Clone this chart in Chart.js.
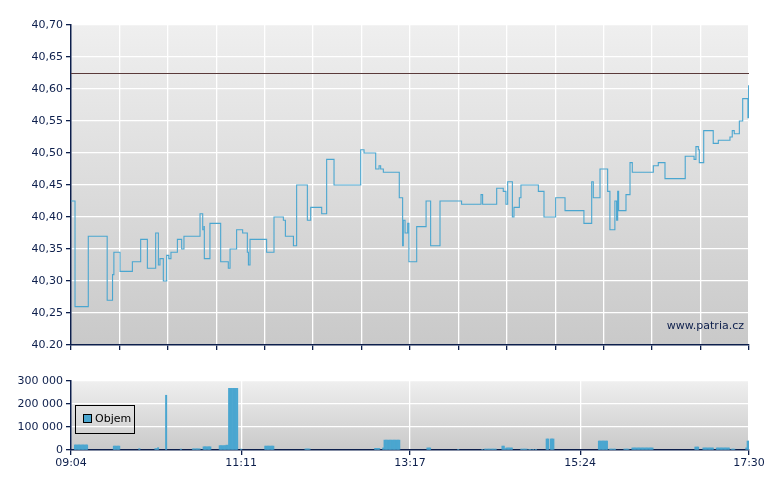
<!DOCTYPE html>
<html><head><meta charset="utf-8">
<script src="https://cdn.jsdelivr.net/npm/chart.js@4/dist/chart.umd.min.js"></script>
<style>
html,body{margin:0;padding:0;background:#fff;width:780px;height:490px;overflow:hidden}
.c{position:absolute;left:0}
</style></head><body>
<div class="c" style="top:0;width:780px;height:360px"><canvas id="p"></canvas></div>
<div class="c" style="top:360px;width:780px;height:130px"><canvas id="v"></canvas></div>
<script>
// minutes after 09:04
const priceTimes = [0,3,12.9,27,31,32,36.6,45.8,52,57,63.2,65.2,66.4,68.9,71.4,73,74.6,79.4,82.6,84.3,96.3,98.3,99.3,99.5,103.7,111.7,117.4,118.7,123.6,128.1,131.6,132.4,133.6,146,151.5,158.5,160,166,168.4,176.4,178.9,187.1,190.8,196.3,216.2,218.7,227.4,229.9,231.1,233.1,245,247.5,248,249.3,251.3,252.2,258,265,268.4,275.4,291.5,306,307.2,317.7,322.6,324.6,325.9,329.4,330.6,334.6,335.8,348.8,353,361.7,368.7,382.8,388.6,389.8,394.8,400.5,402.2,405.9,407.2,408,408.7,414.2,417.2,418.9,434.6,438.3,443.3,458.4,465,466.4,468.2,468.9,472.2,479.3,483.1,491.8,493.5,495,498.8,501.3,505.2,505.7,506];
const priceValues = [40.425,40.26,40.37,40.27,40.31,40.345,40.315,40.33,40.365,40.32,40.375,40.325,40.335,40.30,40.34,40.335,40.345,40.365,40.35,40.37,40.405,40.38,40.385,40.335,40.39,40.33,40.32,40.35,40.38,40.375,40.345,40.325,40.365,40.345,40.40,40.395,40.37,40.355,40.45,40.395,40.415,40.405,40.49,40.45,40.505,40.50,40.475,40.48,40.475,40.47,40.43,40.355,40.395,40.375,40.39,40.33,40.385,40.425,40.355,40.425,40.42,40.435,40.42,40.445,40.44,40.42,40.455,40.40,40.415,40.43,40.45,40.44,40.40,40.43,40.41,40.39,40.455,40.43,40.475,40.44,40.38,40.425,40.395,40.44,40.41,40.435,40.485,40.47,40.48,40.485,40.46,40.495,40.49,40.51,40.505,40.485,40.535,40.515,40.52,40.525,40.535,40.53,40.55,40.585,40.555,40.605,40.605];
const referencePrice = 40.625;
const volStart = [3,32,51,63,65,71,82,91,99,111,116,118,127,145,175,227,233,234,238,266,289,307,309,311,322,324,325,336,342,343,345,347,355,358,394,397,402,413,419,466,472,482,493,504,505,506];
const volEnd   = [12,36,51,64,65,71,82,96,104,115,117,124,127,151,178,230,233,237,245,268,289,307,310,317,323,324,329,340,342,343,345,347,356,360,396,400,406,416,434,468,479,491,495,504,505,506];
const volValues= [22000,17000,6000,6000,10000,238000,4000,5000,14000,19000,21000,268000,4000,17000,4500,7000,9000,43000,43000,9000,3000,3000,4000,4000,17000,6000,9000,4000,3000,3000,3000,3000,48000,48000,39000,39000,4000,4000,9000,13000,9000,9000,4000,9000,39000,39000];
const volTickMinutes = [0,127,253,380,506];
const volTickLabels = ['09:04','11:11','13:17','15:24','17:30'];
const priceTicks = [40.20,40.25,40.30,40.35,40.40,40.45,40.50,40.55,40.60,40.65,40.70];
const volTicks = [0,100000,200000,300000];

const NAVY='#0d1f4c', FF='"DejaVu Sans", Verdana, sans-serif', FONT={family:FF,size:11};
Chart.defaults.font=FONT; Chart.defaults.color=NAVY;

const bg={id:'bg',beforeDraw(c){const a=c.chartArea,x=c.ctx;const g=x.createLinearGradient(0,a.top,0,a.bottom);g.addColorStop(0,'#efefef');g.addColorStop(1,'#c9c9c9');x.save();x.fillStyle=g;x.fillRect(a.left,a.top,a.right-a.left,a.bottom-a.top);x.restore();}};

const refLine={id:'ref',afterDatasetsDraw(c){const a=c.chartArea,x=c.ctx,y=Math.round(c.scales.y.getPixelForValue(referencePrice))+0.5;x.save();x.strokeStyle='#5a3a3a';x.lineWidth=1;x.beginPath();x.moveTo(a.left,y);x.lineTo(a.right,y);x.stroke();
x.fillStyle=NAVY;x.font='11px '+FF;x.textAlign='right';x.textBaseline='alphabetic';x.fillText('www.patria.cz',a.right-5,a.bottom-16);x.restore();}};

const stepX=506/14; const gridX=[];for(let i=0;i<=14;i++)gridX.push(i*stepX);

new Chart(document.getElementById('p'),{
 type:'line',
 data:{datasets:[{data:priceTimes.map((t,i)=>({x:t,y:priceValues[i]})),borderColor:'#4aa6d0',borderWidth:1.1,pointRadius:0,stepped:true,fill:false}]},
 options:{responsive:true,maintainAspectRatio:false,animation:false,
  layout:{padding:{top:25,right:31,left:0,bottom:0}},
  plugins:{legend:{display:false},tooltip:{enabled:false}},
  scales:{
   x:{type:'linear',min:0,max:506,afterBuildTicks:s=>{s.ticks=gridX.map(v=>({value:v}));},
      ticks:{display:false},grid:{color:'#ffffff',lineWidth:1.3,tickColor:NAVY,tickLength:5,drawTicks:true},
      border:{color:NAVY,width:1.5},afterFit:s=>{s.height=15;}},
   y:{min:40.2,max:40.7,afterBuildTicks:s=>{s.ticks=priceTicks.map(v=>({value:v}));},
      ticks:{color:NAVY,padding:3,callback:v=>v===40.2?'40.20':v.toFixed(2).replace('.',',')},
      grid:{color:'#ffffff',lineWidth:1.3,tickColor:NAVY,tickLength:5},
      border:{color:NAVY,width:1.5},afterFit:s=>{s.width=71;}}
  }},
 plugins:[bg,refLine]
});

const volData=[];
volStart.forEach((s,i)=>{for(let m=s;m<=volEnd[i];m++)volData.push({x:m,y:volValues[i]});});

const legendBox={id:'lg',afterDraw(c){const x=c.ctx;x.save();x.strokeStyle='#000';x.lineWidth=1;x.strokeRect(75.5,405.5-360,59,28);
x.fillStyle='#4aa6d0';x.fillRect(83.5,414.5-360,8,8);x.strokeRect(83.5,414.5-360,8,8);
x.fillStyle='#000';x.font='11px '+FF;x.textBaseline='middle';x.fillText(c.data.datasets[0].label,95,419-360);x.restore();}};

new Chart(document.getElementById('v'),{
 type:'bar',
 data:{datasets:[{label:'Objem',data:volData,backgroundColor:'#4aa6d0',barPercentage:1,categoryPercentage:1,borderWidth:0}]},
 options:{responsive:true,maintainAspectRatio:false,animation:false,
  layout:{padding:{top:21,right:31,left:0,bottom:0}},
  plugins:{legend:{display:false},tooltip:{enabled:false}},
  scales:{
   x:{type:'linear',min:0,max:506,offset:false,afterBuildTicks:s=>{s.ticks=volTickMinutes.map(v=>({value:v}));},
      ticks:{color:NAVY,maxRotation:0,autoSkip:false,padding:2,callback:(v)=>volTickLabels[volTickMinutes.indexOf(v)]},
      grid:{offset:false,color:'#ffffff',lineWidth:1.3,tickColor:NAVY,tickLength:5},
      border:{color:NAVY,width:1.5},afterFit:s=>{s.height=40;}},
   y:{min:0,max:300000,afterBuildTicks:s=>{s.ticks=volTicks.map(v=>({value:v}));},
      ticks:{color:NAVY,padding:3,callback:v=>v===0?'0':String(v).replace(/\B(?=(\d{3})+(?!\d))/g,' ')},
      grid:{color:'#ffffff',lineWidth:1.3,tickColor:NAVY,tickLength:5},
      border:{color:NAVY,width:1.5},afterFit:s=>{s.width=71;}}
  }},
 plugins:[bg,legendBox]
});
</script></body></html>
